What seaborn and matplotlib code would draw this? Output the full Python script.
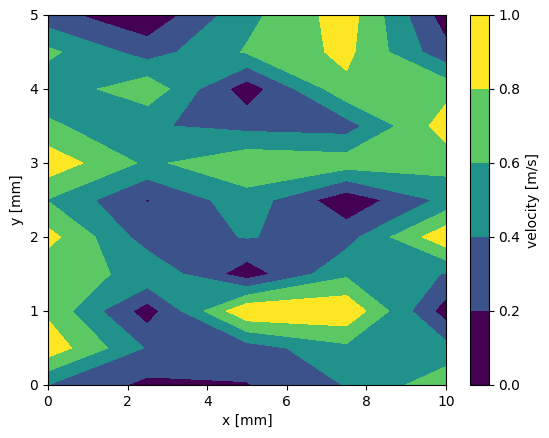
import numpy as np
import matplotlib
matplotlib.use("Agg")
import matplotlib.pyplot as plt
import seaborn as sns

# 网格坐标
x_mm = [0, 2.5, 5, 7.5, 10]
y_mm = [0, 0.5, 1, 1.5, 2, 2.5, 3, 3.5, 4, 4.5, 5]

# 每一行对应一个 y 值 (从 y=0 到 y=5)
v_y00 = [0.40, 0.15, 0.19, 0.41, 0.73]
v_y05 = [0.93, 0.38, 0.30, 0.55, 0.47]
v_y10 = [0.76, 0.10, 0.98, 0.97, 0.10]
v_y15 = [0.65, 0.57, 0.09, 0.56, 0.39]
v_y20 = [0.87, 0.30, 0.41, 0.32, 0.95]
v_y25 = [0.59, 0.19, 0.52, 0.06, 0.455]
v_y30 = [0.93, 0.56, 0.75, 0.71, 0.68]
v_y35 = [0.64, 0.42, 0.34, 0.31, 0.90]
v_y40 = [0.455, 0.745, 0.08, 0.75, 0.73]
v_y45 = [0.646, 0.307, 0.62, 0.85, 0.26]
v_y50 = [0.27, 0.045, 0.54, 0.90, 0.096]

levels = [0.0, 0.2, 0.4, 0.6, 0.8, 1.0]

velocity = np.array([v_y00, v_y05, v_y10, v_y15, v_y20, v_y25,
                     v_y30, v_y35, v_y40, v_y45, v_y50])
X, Y = np.meshgrid(x_mm, y_mm)

cmap = sns.color_palette("viridis", as_cmap=True)

fig = plt.figure(figsize=(5.49, 4.38), dpi=100)
ax = fig.add_axes([48 / 549, 53 / 438, 398 / 549, 370 / 438])
cax = fig.add_axes([470 / 549, 53 / 438, 18.5 / 549, 370 / 438])

# 颜色取各层中点，首尾层对应色图两端
cf = ax.contourf(X, Y, velocity, levels=levels, cmap=cmap,
                 vmin=0.1, vmax=0.9)
ax.set_xlabel("x [mm]")
ax.set_ylabel("y [mm]")

cbar = fig.colorbar(cf, cax=cax)
cbar.set_label("velocity [m/s]")

fig.savefig("out.png", dpi=100)
